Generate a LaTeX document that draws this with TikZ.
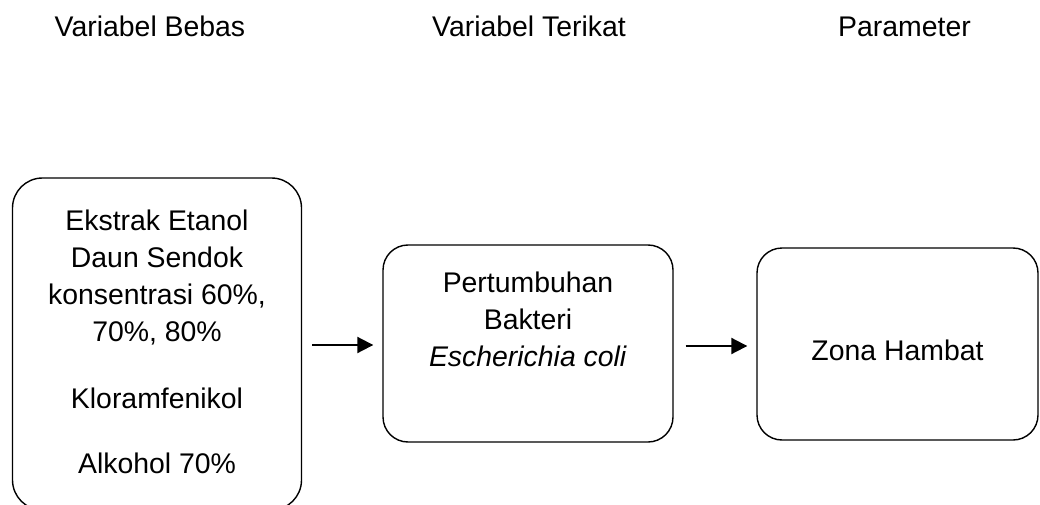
\documentclass[tikz,border=0pt]{standalone}
\usepackage{fontspec}
\setmainfont{Liberation Sans}
\usetikzlibrary{arrows.meta}

\begin{document}
\begin{tikzpicture}[x=1pt, y=1pt,
    font=\fontsize{28.4pt}{37pt}\selectfont,
    box/.style={draw, line width=1.4pt, rounded corners=30pt},
    txt/.style={align=center, inner sep=0pt},
    head/.style={anchor=base, inner sep=0pt},
    flow/.style={line width=2pt, -{Triangle[length=16pt, width=16pt]}}]

\clip (0,0) rectangle (1040,504);

\node[head] (hbebas) at (150,467) {Variabel Bebas};
\node[head] (hterikat) at (529,467) {Variabel Terikat};
\node[head] (hparam) at (904.5,467) {Parameter};

\node[box, minimum width=289pt, minimum height=332pt] (bebas) at (157,160) {};
\node[box, rounded corners=25pt, minimum width=290pt, minimum height=197pt] (terikat) at (528,160.5) {};
\node[box, rounded corners=25pt, minimum width=281pt, minimum height=192pt] (param) at (897.5,160) {};

\node[txt] (tbebas) at (157,162.5) {Ekstrak Etanol\\Daun Sendok\\konsentrasi 60\%,\\70\%, 80\%\\[30pt]Kloramfenikol\\[28pt]Alkohol 70\%};
\node[txt] (tterikat) at (528,184.3) {Pertumbuhan\\Bakteri\\\textit{Escherichia coli}};
\node[head] (tparam) at (897.5,144) {Zona Hambat};

\draw[flow, shorten <=10pt, shorten >=9pt] (bebas.east |- 0,159) -- (terikat.west |- 0,159);
\draw[flow, shorten <=12pt, shorten >=9pt] (terikat.east |- 0,158) -- (param.west |- 0,158);

\end{tikzpicture}
\end{document}
